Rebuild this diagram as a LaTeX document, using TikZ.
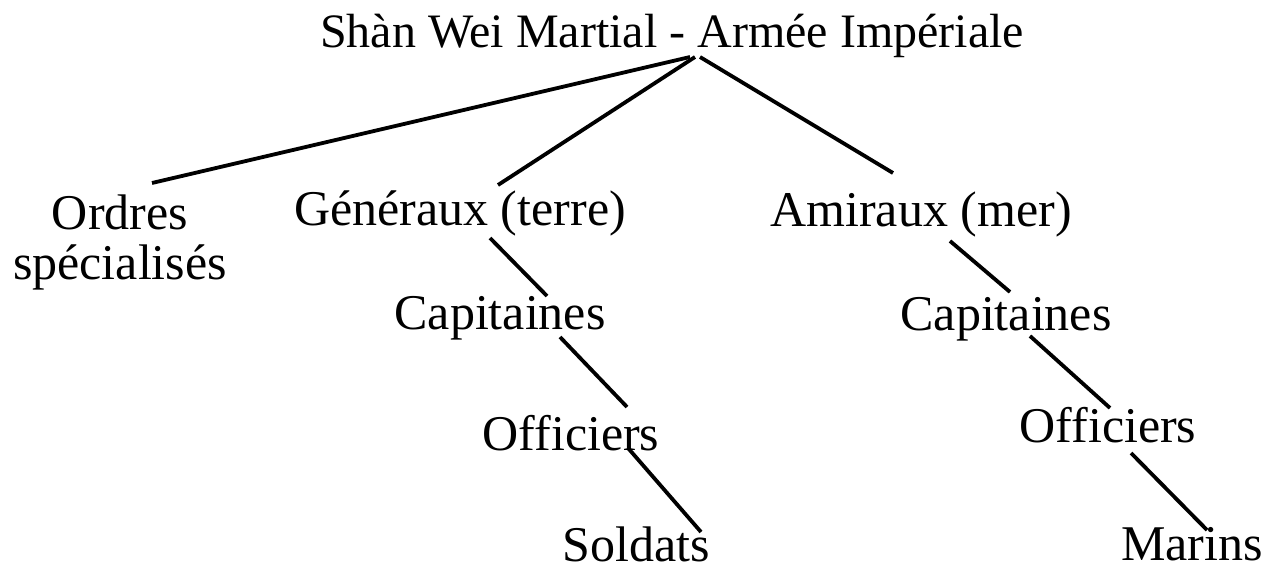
\documentclass[tikz,border=0pt]{standalone}
\usepackage{fontspec}
\setmainfont{Liberation Serif}
\usetikzlibrary{calc}
\begin{document}
\begin{tikzpicture}[x=1pt,y=-1pt,
  lbl/.style={anchor=base,inner sep=0pt,font=\fontsize{50}{53}\selectfont},
  link/.style={line width=3.8pt}]
\useasboundingbox[fill=white] (0,0) rectangle (1273,567);
\node[lbl,font=\fontsize{48}{52}\selectfont] (title) at (672,48) {Shàn Wei Martial - Armée Impériale};
\node[lbl] (ord) at (120,229) {Ordres};
\node[lbl] (spec) at (120,279) {spécialisés};
\node[lbl] (gen) at (460,225) {Généraux (terre)};
\node[lbl] (ami) at (921,226) {Amiraux (mer)};
\node[lbl] (capl) at (500,329) {Capitaines};
\node[lbl] (capr) at (1006,330) {Capitaines};
\node[lbl] (offl) at (571,450) {Officiers};
\node[lbl] (offr) at (1108,442) {Officiers};
\node[lbl] (sol) at (636,561) {Soldats};
\node[lbl] (mar) at (1192,560) {Marins};
\draw[link] ($(title.base)+(18,9)$) -- ($(ord.base)+(32,-46)$);
\draw[link] ($(title.base)+(23,9)$) -- ($(gen.base)+(38,-40)$);
\draw[link] ($(title.base)+(28,9)$) -- ($(ami.base)+(-28,-53)$);
\draw[link] ($(gen.base)+(30,13)$) -- ($(capl.base)+(47,-33)$);
\draw[link] ($(capl.base)+(60,8)$) -- ($(offl.base)+(56,-43)$);
\draw[link] ($(offl.base)+(57,-2)$) -- ($(sol.base)+(65,-29)$);
\draw[link] ($(ami.base)+(29,15)$) -- ($(capr.base)+(4,-38)$);
\draw[link] ($(capr.base)+(24,6)$) -- ($(offr.base)+(2,-34)$);
\draw[link] ($(offr.base)+(23,11)$) -- ($(mar.base)+(15,-30)$);
\end{tikzpicture}
\end{document}
